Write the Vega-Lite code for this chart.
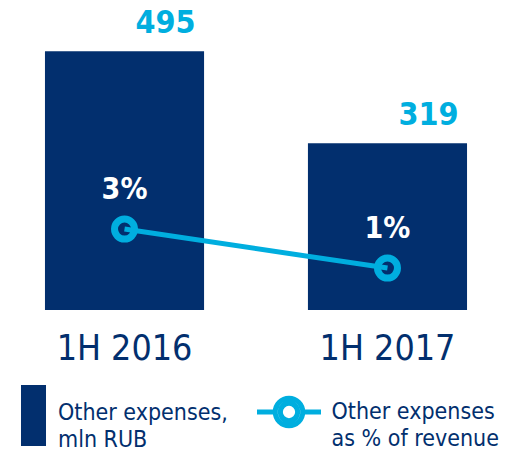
{
  "$schema": "https://vega.github.io/schema/vega-lite/v6.json",
  "width": 512,
  "height": 310,
  "autosize": "none",
  "padding": {"left": 0, "top": 0, "right": 9, "bottom": 140},
  "background": "white",
  "config": {"view": {"stroke": null}, "font": "DejaVu Sans Condensed"},
  "data": {"values": [
    {"period": "1H 2016", "expenses": 495, "pct": 0.03},
    {"period": "1H 2017", "expenses": 319, "pct": 0.01}
  ]},
  "encoding": {
    "x": {"field": "period", "type": "nominal", "sort": null,
      "scale": {"paddingInner": 0.395, "paddingOuter": 0.171},
      "axis": {"title": null, "domain": false, "ticks": false, "labelAngle": 0, "labelPadding": 21,
        "labelFontSize": 35.5, "labelColor": "#022F6E", "labelFont": "DejaVu Sans Condensed"}}
  },
  "layer": [
    {
      "encoding": {"y": {"field": "expenses", "type": "quantitative", "scale": {"domain": [0, 593]}, "axis": null}},
      "layer": [
        {"mark": {"type": "bar"},
         "encoding": {"fill": {"datum": "Other expenses,|mln RUB", "type": "nominal",
           "scale": {"range": ["#022F6E"]},
           "legend": {"title": null, "orient": "none", "legendX": 3, "legendY": 385, "padding": 0,
             "symbolType": "M-0.41,-1H0.41V1H-0.41Z", "symbolSize": 3721, "symbolStrokeWidth": 0,
             "labelExpr": "split(datum.label, '|')", "labelFontSize": 23, "labelColor": "#022F6E",
             "labelFont": "DejaVu Sans Condensed", "labelOffset": -6, "labelLimit": 400,
             "encode": {"labels": {"update": {"lineHeight": {"value": 27}, "dy": {"value": -3}}}}}}}},
        {"mark": {"type": "text", "baseline": "alphabetic", "dy": -18, "dx": 41, "fontSize": 32, "fontWeight": "bold",
           "color": "#00AEDF", "font": "DejaVu Sans Condensed"},
         "encoding": {"text": {"field": "expenses", "type": "quantitative"}}}
      ]
    },
    {
      "encoding": {"y": {"field": "pct", "type": "quantitative", "scale": {"domain": [-0.0115, 0.1475]}, "axis": null}},
      "layer": [
        {"mark": {"type": "line", "strokeWidth": 5},
         "encoding": {"stroke": {"datum": "Other expenses|as % of revenue", "type": "nominal",
           "scale": {"range": ["#00AEDF"]},
           "legend": {"title": null, "orient": "none", "legendX": 254.5, "legendY": 377.5, "padding": 0,
             "symbolType": "M-1,0H-0.43M0.43,0H1M0.43,0A0.43,0.43,0,1,1,-0.43,0A0.43,0.43,0,1,1,0.43,0M0.27,0A0.27,0.27,0,1,1,-0.27,0A0.27,0.27,0,1,1,0.27,0",
             "symbolSize": 4096, "symbolStrokeWidth": 5,
             "labelExpr": "split(datum.label, '|')", "labelFontSize": 23, "labelColor": "#022F6E",
             "labelFont": "DejaVu Sans Condensed", "labelOffset": 8, "labelLimit": 400,
             "encode": {"symbols": {"update": {"fill": {"value": "white"}, "strokeWidth": {"value": 5}}},
                        "labels": {"update": {"lineHeight": {"value": 27}}}}}}}},
        {"mark": {"type": "point", "filled": false, "shape": "circle", "size": 400, "strokeWidth": 7,
           "color": "#00AEDF", "opacity": 1}},
        {"mark": {"type": "text", "baseline": "alphabetic", "dy": -30, "fontSize": 30, "fontWeight": "bold",
           "color": "white", "font": "DejaVu Sans Condensed"},
         "encoding": {"text": {"field": "pct", "type": "quantitative", "format": ".0%"}}}
      ]
    }
  ],
  "resolve": {"scale": {"y": "independent"}}
}
